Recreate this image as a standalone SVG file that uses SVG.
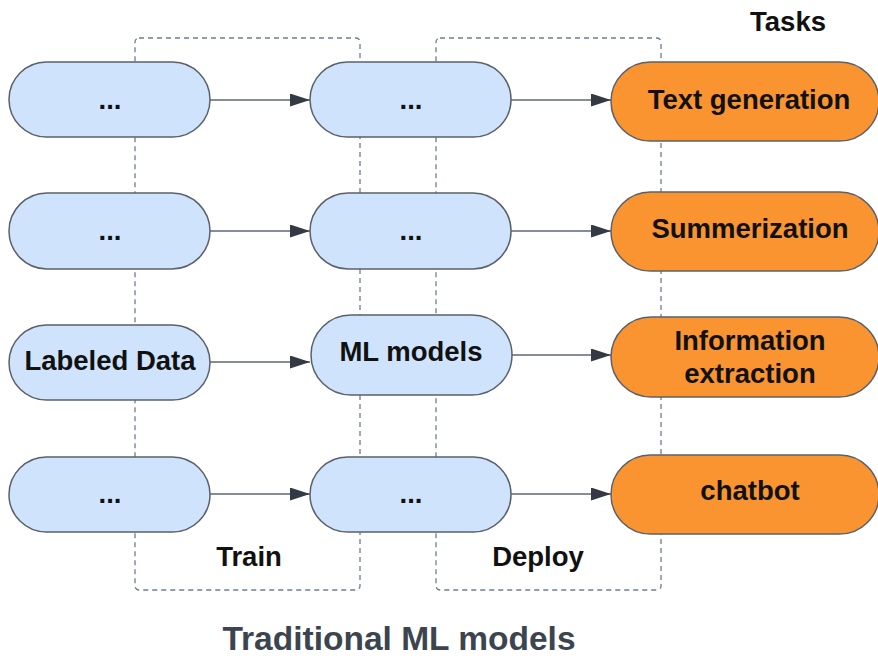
<svg xmlns="http://www.w3.org/2000/svg" width="878" height="656" viewBox="0 0 878 656">
<defs>
<style>
.grp{fill:none;stroke:#6e7c91;stroke-width:1.3;stroke-dasharray:5 4}
.blue{fill:#cfe3fc;stroke:#5b6169;stroke-width:1.5}
.orange{fill:#f99431;stroke:#5b6169;stroke-width:1.5}
.t{font-family:"Liberation Sans",Arial,sans-serif;font-weight:bold;font-size:27.5px;fill:#111;text-anchor:middle}
.edge{stroke:#5f6770;stroke-width:1.5;fill:none;marker-end:url(#arr)}
</style>
<marker id="arr" viewBox="0 0 20 13" refX="20" refY="6.5" markerWidth="20" markerHeight="13" markerUnits="userSpaceOnUse" orient="auto">
<path d="M0,0 L20,6.5 L0,13 Z" fill="#333a44"/>
</marker>
</defs>
<rect width="878" height="656" fill="#fff"/>
<g id="groups">
<rect class="grp" x="135" y="38" width="225" height="552" rx="4"/>
<rect class="grp" x="436" y="38" width="225" height="552" rx="4"/>
</g>
<g id="connectors">
<path class="edge" d="M210,100 L310,100"/>
<path class="edge" d="M511,100 L611,100"/>
<path class="edge" d="M210,231 L310,231"/>
<path class="edge" d="M511,231 L611,231"/>
<path class="edge" d="M210,362 L310,362"/>
<path class="edge" d="M511,355 L611,355"/>
<path class="edge" d="M210,494 L310,494"/>
<path class="edge" d="M511,494 L611,494"/>
</g>
<g id="n1"><rect class="blue" x="9" y="62" width="201" height="75" rx="37.5"/><text class="t" x="110" y="109">...</text></g>
<g id="n2"><rect class="blue" x="310" y="62" width="201" height="75" rx="37.5"/><text class="t" x="411" y="109">...</text></g>
<g id="n3"><rect class="orange" x="611" y="62" width="268" height="79" rx="39.5"/><text class="t" x="749" y="109">Text generation</text></g>
<g id="n4"><rect class="blue" x="9" y="193" width="201" height="76" rx="38"/><text class="t" x="110" y="240">...</text></g>
<g id="n5"><rect class="blue" x="310" y="193" width="201" height="76" rx="38"/><text class="t" x="411" y="240">...</text></g>
<g id="n6"><rect class="orange" x="611" y="192" width="268" height="79" rx="39.5"/><text class="t" x="750" y="238">Summerization</text></g>
<g id="n7"><rect class="blue" x="9" y="325" width="201" height="75" rx="37.5"/><text class="t" x="110" y="370">Labeled Data</text></g>
<g id="n8"><rect class="blue" x="311" y="315" width="201" height="80" rx="40"/><text class="t" x="411" y="361">ML models</text></g>
<g id="n9"><rect class="orange" x="611" y="317" width="268" height="80" rx="40"/><text class="t" x="750" y="350">Information</text><text class="t" x="750" y="383">extraction</text></g>
<g id="n10"><rect class="blue" x="9" y="457" width="201" height="75" rx="37.5"/><text class="t" x="110" y="503">...</text></g>
<g id="n11"><rect class="blue" x="310" y="457" width="201" height="75" rx="37.5"/><text class="t" x="411" y="503">...</text></g>
<g id="n12"><rect class="orange" x="611" y="455" width="268" height="79" rx="39.5"/><text class="t" x="750" y="500">chatbot</text></g>
<g id="labels">
<text class="t" x="788" y="31">Tasks</text>
<text class="t" x="249" y="566">Train</text>
<text class="t" x="538" y="566">Deploy</text>
<text class="t" x="399" y="650" style="font-size:33.5px;fill:#3c4450">Traditional ML models</text>
</g>
</svg>
